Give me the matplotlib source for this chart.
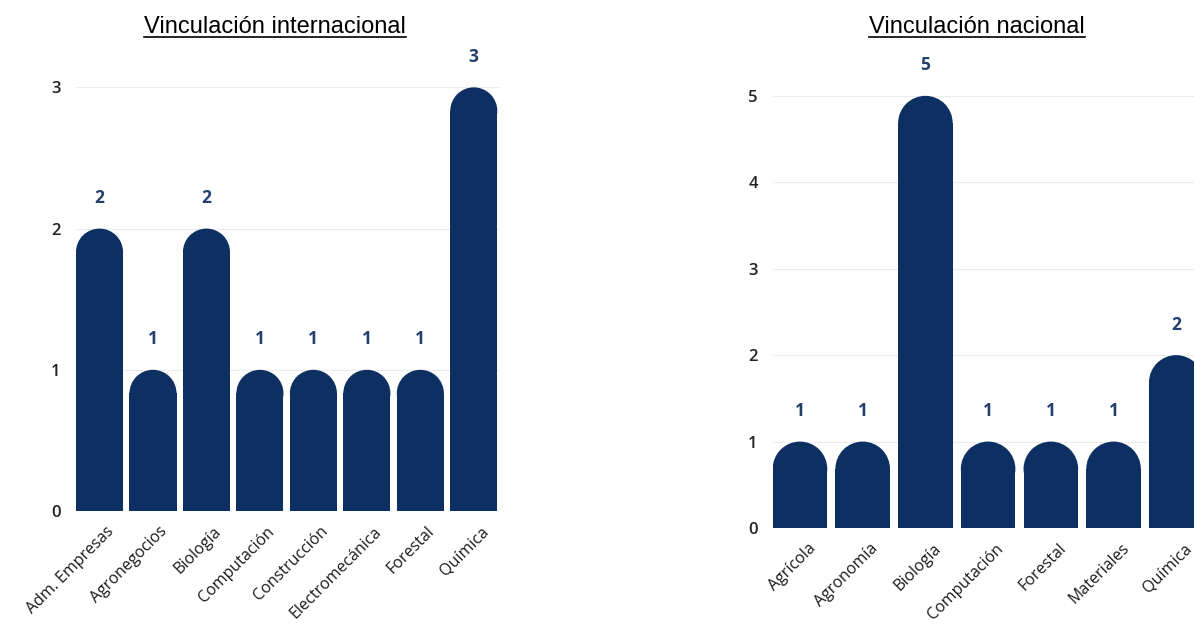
import matplotlib.pyplot as plt
from matplotlib.patches import Ellipse
from matplotlib.lines import Line2D
import numpy as np

# data
intl_labels = ["Adm. Empresas", "Agronegocios", "Biología", "Computación",
               "Construcción", "Electromecánica", "Forestal", "Química"]
intl_values = [2, 1, 2, 1, 1, 1, 1, 3]

nac_labels = ["Agrícola", "Agronomía", "Biología", "Computación",
              "Forestal", "Materiales", "Química"]
nac_values = [1, 1, 5, 1, 1, 1, 2]

bar_color = "#0d2f61"
label_color = "#23406c"
W, H = 1194, 630

fig = plt.figure(figsize=(W / 100, H / 100), dpi=100)
fig.patch.set_facecolor("white")


def px_axes(left, right, top, bottom):
    # axes from pixel box (top-left origin)
    return fig.add_axes([left / W, (H - bottom) / H, (right - left) / W, (bottom - top) / H])


def rounded_bars(ax, labels, values, width, ylim, xlim, yticks):
    ax.set_xlim(*xlim)
    ax.set_ylim(*ylim)
    x = np.arange(len(values))
    # radius in data y so the cap is a half circle on screen
    bb = ax.get_window_extent()
    px_per_x = bb.width / (xlim[1] - xlim[0])
    px_per_y = bb.height / (ylim[1] - ylim[0])
    r_y = (width / 2) * px_per_x / px_per_y
    vals = np.array(values, dtype=float)
    ax.bar(x, vals - r_y, width=width, color=bar_color, zorder=3, linewidth=0)
    for xi, v in zip(x, vals):
        ax.add_patch(Ellipse((xi, v - r_y), width, 2 * r_y, color=bar_color,
                             zorder=3, linewidth=0))
        ax.annotate(str(int(v)), (xi, v), xytext=(0, 22), textcoords="offset points",
                    ha="center", va="center", fontsize=12.5, fontweight="bold",
                    color=label_color, family="Open Sans")
    ax.set_yticks(yticks)
    ax.set_yticklabels([str(t) for t in yticks], fontsize=12, color="#222222",
                       family="Open Sans", fontweight="semibold")
    ax.tick_params(axis="y", length=0, pad=11)
    ax.tick_params(axis="x", length=0, pad=9)
    ax.set_xticks(x + 0.12)
    ax.set_xticklabels(labels, rotation=45, ha="right", rotation_mode="anchor",
                       fontsize=11.5, color="#1a1a1a", family="Open Sans")
    ax.grid(axis="y", color="#ececec", linewidth=0.8, zorder=0)
    for s in ax.spines.values():
        s.set_visible(False)
    ax.set_facecolor("none")


ax1 = px_axes(76, 500, 45, 511)
rounded_bars(ax1, intl_labels, intl_values, 0.88, (0, 3.3), (-0.44, 7.49), [0, 1, 2, 3])

ax2 = px_axes(773, 1207, 44, 528)
rounded_bars(ax2, nac_labels, nac_values, 0.87, (0, 5.6), (-0.43, 6.49), [0, 1, 2, 3, 4, 5])

# underlined titles
titles = [("Vinculación internacional", 275), ("Vinculación nacional", 977)]
fig.canvas.draw()
renderer = fig.canvas.get_renderer()
for txt, cx in titles:
    t = fig.text(cx / W, (H - 33) / H, txt, ha="center", va="baseline",
                 fontsize=17, family="Liberation Sans", color="black")
    bb = t.get_window_extent(renderer)
    y_ul = (H - 37) / H
    fig.add_artist(Line2D([bb.x0 / W, bb.x1 / W], [y_ul, y_ul],
                          color="black", linewidth=1.2, transform=fig.transFigure))

fig.savefig("out.png", dpi=100, facecolor="white")
